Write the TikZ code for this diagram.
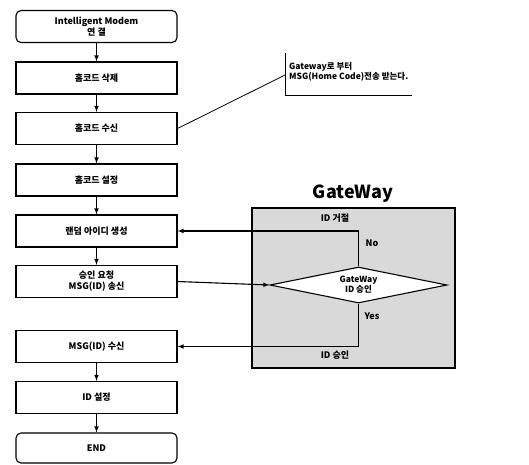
\documentclass[tikz,border=0pt]{standalone}
\usepackage{fontspec}
\setmainfont{Noto Sans CJK KR}
\usepackage{tikz}
\usetikzlibrary{arrows,backgrounds,calc,shapes.geometric}

\begin{document}
\begin{tikzpicture}[x=1pt,y=-1pt,
  stepbox/.style={draw,line width=1.1pt,minimum width=161pt,minimum height=32pt,font=\bfseries\fontsize{9}{11}\selectfont,align=center,inner sep=0pt},
  endbox/.style={stepbox,rounded corners=5pt},
  flow/.style={line width=1.1pt,-latex},
  lbl/.style={font=\bfseries\fontsize{9}{11}\selectfont,inner sep=1pt}]
\useasboundingbox (0,0) rectangle (529,464);
\node[endbox] (modem) at (96.5,26.5) {Intelligent Modem\\연 결};
\node[stepbox] (del) at (96.5,78) {홈코드 삭제};
\node[stepbox] (recv) at (96.5,128.5) {홈코드 수신};
\node[stepbox] (set) at (96.5,180) {홈코드 설정};
\node[stepbox] (rand) at (96.5,231) {랜덤 아이디 생성};
\node[stepbox] (req) at (96.5,281.5) {승인 요청\\MSG(ID) 송신};
\node[stepbox] (idrecv) at (96.5,346.5) {MSG(ID) 수신};
\node[stepbox] (idset) at (96.5,397.5) {ID 설정};
\node[endbox,minimum height=30pt] (fin) at (96.5,448) {END};
\foreach \a/\b in {modem/del,del/recv,recv/set,set/rand,rand/req,idrecv/idset,idset/fin}
  \draw[flow] (\a) -- (\b);
% GateWay
\node[draw,line width=1.1pt,fill=gray!30,minimum width=203pt,minimum height=160pt] (gw) at (353.5,288) {};
\node[font=\bfseries\fontsize{18}{20}\selectfont] (gwtitle) at (353,194) {GateWay};
\node[lbl] (reject) at (335,218) {ID 거절};
\node[diamond,draw,line width=1.1pt,fill=white,aspect=4.9,inner sep=0pt,minimum width=177pt,minimum height=36pt,font=\bfseries\fontsize{8.5}{10}\selectfont,align=center] (dia) at (358.5,285) {GateWay\\ID 승인};
\draw[flow] (req.east) -- (dia.west);
\draw[flow] (dia.north) |- (rand.east);
\draw[flow] (dia.south) |- (idrecv.east);
\node[lbl] (no) at (372,243) {No};
\node[lbl] (yes) at (372,316) {Yes};
\node[lbl] (accept) at (335,355) {ID 승인};
% callout
\coordinate (cl) at (285,75);
\draw[line width=0.8pt] (recv.east) -- (cl);
\draw[line width=0.8pt] (285,53) -- (285,95) -- (412,95);
\node[lbl,anchor=west,align=left,font=\bfseries\fontsize{8.5}{10.5}\selectfont] (note) at (288,72) {Gateway로 부터\\MSG(Home Code)전송 받는다.};
\end{tikzpicture}
\end{document}
